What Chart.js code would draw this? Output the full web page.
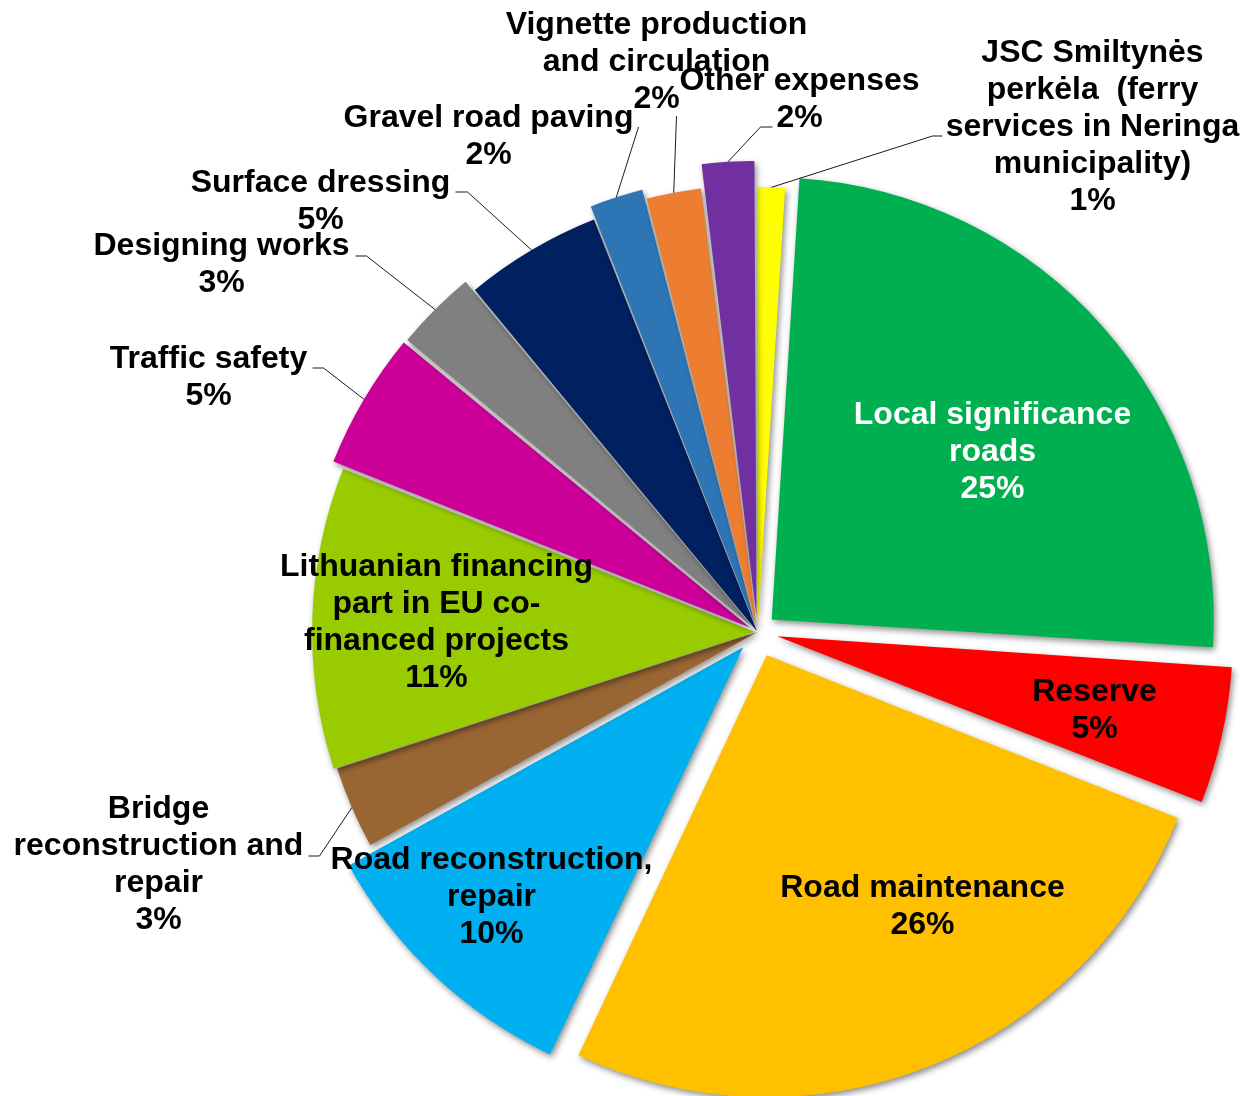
<!DOCTYPE html>
<html>
<head>
<meta charset="utf-8">
<script src="https://cdn.jsdelivr.net/npm/chart.js@4.4.1/dist/chart.umd.min.js"></script>
<style>
  html, body { margin: 0; padding: 0; background: #fff; }
  #wrap { width: 1245px; height: 1096px; position: relative; }
</style>
</head>
<body>
<div id="wrap"><canvas id="c"></canvas></div>
<script>
// slices, clockwise from 12 o'clock
const categories = [
  ['JSC Smiltynės', 'perkėla  (ferry', 'services in Neringa', 'municipality)'],
  ['Local significance', 'roads'],
  ['Reserve'],
  ['Road maintenance'],
  ['Road reconstruction,', 'repair'],
  ['Bridge', 'reconstruction and', 'repair'],
  ['Lithuanian financing', 'part in EU co-', 'financed projects'],
  ['Traffic safety'],
  ['Designing works'],
  ['Surface dressing'],
  ['Gravel road paving'],
  ['Vignette production', 'and circulation'],
  ['Other expenses']
];
const shares = [1, 25, 5, 26, 10, 3, 11, 5, 3, 5, 2, 2, 2];

const colors = ['#FFFF00', '#00B050', '#FF0000', '#FFC000', '#00B0F0', '#996633', '#99CC00',
                '#CC0099', '#808080', '#002060', '#2E75B6', '#ED7D31', '#7030A0'];
const explode = [6, 76, 80, 100, 84, 0, 10, 36, 31, 4, 32, 11, 62];

// label block: [x, y of first line] relative to pie centre; leader: [elbowX, elbowY, endX, endY] or null
const labelAt = [
  [335, -579], [235, -217], [337, 60], [165, 256], [-266, 228], [-599, 177], [-321, -65],
  [-549, -273], [-536, -386], [-437, -449], [-269, -514], [-101, -607], [42, -551]
];
const leaders = [
  [175, -496, 185, -496], null, null, null, null, [-438, 224, -449, 224], null,
  [-434, -264, -445, -264], [-391, -376, -402, -376], [-290, -440, -302, -440],
  [-119, -505, -119, -505], [-81, -516, -81, -516], [3, -505, 15, -505]
];
const whiteText = [false, true, false, false, false, false, false, false, false, false, false, false, false];

const FONT = 'bold 32px "Liberation Sans", Arial, sans-serif';
const LINE_H = 37;

const shadowPlugin = {
  id: 'shadow',
  beforeDatasetDraw(chart) {
    const ctx = chart.ctx;
    ctx.save();
    ctx.shadowColor = 'rgba(0,0,0,0.45)';
    ctx.shadowBlur = 6;
    ctx.shadowOffsetX = 2;
    ctx.shadowOffsetY = 3;
  },
  afterDatasetDraw(chart) {
    chart.ctx.restore();
  }
};

const labelPlugin = {
  id: 'sliceLabels',
  afterDatasetsDraw(chart) {
    const ctx = chart.ctx;
    const arcs = chart.getDatasetMeta(0).data;
    const total = shares.reduce((a, b) => a + b, 0);
    ctx.save();
    ctx.font = FONT;
    ctx.textAlign = 'center';
    ctx.textBaseline = 'middle';
    arcs.forEach((arc, i) => {
      const cx = arc.x, cy = arc.y;
      const lead = leaders[i];
      if (lead) {
        const mid = (arc.startAngle + arc.endAngle) / 2;
        const t = (arc.options.offset || 0) / 4;
        const fix = 1 - Math.sin(Math.min(Math.PI, arc.endAngle - arc.startAngle));
        const r = arc.outerRadius + t + t * fix;
        ctx.beginPath();
        ctx.strokeStyle = '#1a1a1a';
        ctx.lineWidth = 1;
        ctx.moveTo(cx + Math.cos(mid) * r, cy + Math.sin(mid) * r);
        ctx.lineTo(cx + lead[0], cy + lead[1]);
        ctx.lineTo(cx + lead[2], cy + lead[3]);
        ctx.stroke();
      }
      const lines = categories[i].concat([Math.round(shares[i] / total * 100) + '%']);
      ctx.fillStyle = whiteText[i] ? '#fff' : '#000';
      lines.forEach((s, k) => {
        ctx.fillText(s, cx + labelAt[i][0], cy + labelAt[i][1] + k * LINE_H);
      });
    });
    ctx.restore();
  }
};

new Chart(document.getElementById('c'), {
  type: 'pie',
  data: {
    labels: categories.map(l => l.join(' ')),
    datasets: [{
      data: shares,
      backgroundColor: colors,
      borderWidth: 0,
      offset: explode
    }]
  },
  options: {
    responsive: true,
    maintainAspectRatio: false,
    animation: false,
    radius: 442,
    layout: { padding: { left: 270, top: 168, right: 0, bottom: 0 } },
    plugins: { legend: { display: false }, tooltip: { enabled: false } }
  },
  plugins: [shadowPlugin, labelPlugin]
});
</script>
</body>
</html>
